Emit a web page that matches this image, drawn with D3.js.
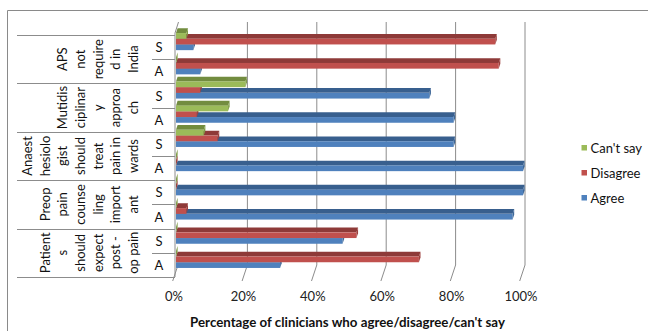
<!DOCTYPE html>
<html>
<head>
<meta charset="utf-8">
<script src="https://cdn.jsdelivr.net/npm/d3@7"></script>
<style>
  html, body { margin: 0; padding: 0; background: #fff; }
  svg { display: block; }
  text { font-family: Lato, "Open Sans", sans-serif; }
</style>
</head>
<body>
<svg id="chart" width="648" height="331"></svg>
<script>
// Statements (each label split into the lines it is set in)
const statements = [
  ["APS", "not", "require", "d in", "India"],
  ["Mutidis", "ciplinar", "y", "approa", "ch"],
  ["Anaest", "hesiolo", "gist", "should", "treat", "pain in", "wards"],
  ["Preop", "pain", "counse", "ling", "import", "ant"],
  ["Patient", "s", "should", "expect", "post -", "op pain"]
];
const groups = ["S", "A"];

// Percentage of clinicians, one value per statement/group row (top to bottom)
const agree    = [5, 7, 73, 80, 80, 100, 100, 97, 48, 30];
const disagree = [92, 93, 7, 6, 12, 0, 0, 3, 52, 70];
const cantSay  = [3, 0, 20, 15, 8, 0, 0, 0, 0, 0];

const seriesNames = ["Can't say", "Disagree", "Agree"];
const xTicks = [0, 20, 40, 60, 80, 100];
const axisTitle = "Percentage of clinicians who agree/disagree/can't say";

const svg = d3.select("#chart");

// rows: one per statement × group
const rows = [];
statements.forEach((s, i) => groups.forEach((g, j) => rows.push({ stmt: i, grp: g, key: i + "-" + g })));

const x = d3.scaleLinear().domain([0, 100]).range([174, 521]);
const y = d3.scaleBand().domain(rows.map(r => r.key)).range([35, 277]).padding(0);
const yStmt = d3.scaleBand().domain(d3.range(statements.length)).range([35, 277]).padding(0);

// 3D projection offsets
const wall = { dx: 4, dy: -12 };     // depth of the back wall
const barOff = { dx: 2, dy: -5.5 };  // bars sit half way into the depth
const barDepth = { dx: 1.6, dy: -4.8 };
const barH = 5.7;

const gridColor = "#8c8c8c";
const colors = {
  "Agree":     { front: "#4f81bd", top: "#385f8e", end: "#3f6898" },
  "Disagree":  { front: "#c0504d", top: "#8e3a38", end: "#9e413e" },
  "Can't say": { front: "#9bbb59", top: "#728c3f", end: "#809d49" }
};

// Outer chart border (left and top edges)
svg.append("path")
  .attr("d", "M7.5,331 L7.5,10.5 L648,10.5")
  .attr("fill", "none").attr("stroke", "#8a8a8a").attr("stroke-width", 1);

// Back wall gridlines
const grid = svg.append("g");
const wallTop = 22, wallBottom = 277 + wall.dy;
xTicks.filter(t => t > 0).forEach(t => {
  grid.append("line")
    .attr("x1", x(t) + wall.dx).attr("x2", x(t) + wall.dx)
    .attr("y1", wallTop).attr("y2", wallBottom)
    .attr("stroke", gridColor).attr("stroke-width", 1);
});
// Floor: depth lines continuing into ticks
xTicks.forEach(t => {
  grid.append("line")
    .attr("x1", x(t) + wall.dx).attr("y1", wallBottom)
    .attr("x2", x(t) - 1.3).attr("y2", 281)
    .attr("stroke", gridColor).attr("stroke-width", 1);
});
// Left wall edge with its slanted top
grid.append("path")
  .attr("d", `M${x(0) + 1},277 L${x(0) + 1},33 L${x(0) + 1 + 3.5},22`)
  .attr("fill", "none").attr("stroke", gridColor).attr("stroke-width", 1);

// Bars (drawn bottom series first so upper bars overlap lower top faces)
const series = [
  { name: "Agree", values: agree, slot: 2 },
  { name: "Disagree", values: disagree, slot: 1 },
  { name: "Can't say", values: cantSay, slot: 0 }
];
const bars = svg.append("g");
rows.forEach((r, i) => {
  const cy = y(r.key) + y.bandwidth() / 2 + barOff.dy;
  series.forEach(s => {
    const v = s.values[i];
    const x0 = x(0) + barOff.dx, x1 = x(v) + barOff.dx;
    const y0 = cy - 1.5 * barH + s.slot * barH, y1 = y0 + barH;
    const c = colors[s.name];
    const g = bars.append("g");
    // top face
    g.append("path")
      .attr("d", `M${x0},${y0} L${x0 + barDepth.dx},${y0 + barDepth.dy} L${x1 + barDepth.dx},${y0 + barDepth.dy} L${x1},${y0} Z`)
      .attr("fill", c.top);
    // front face
    g.append("rect")
      .attr("x", x0).attr("y", y0).attr("width", Math.max(0, x1 - x0)).attr("height", barH)
      .attr("fill", c.front);
    // end face
    g.append("path")
      .attr("d", `M${x1},${y0} L${x1 + barDepth.dx},${y0 + barDepth.dy} L${x1 + barDepth.dx},${y1 + barDepth.dy} L${x1},${y1} Z`)
      .attr("fill", c.end);
  });
});

// Category table on the left
const table = svg.append("g");
const lineColor = "#8c8c8c";
d3.range(statements.length + 1).forEach(i => {
  const yy = Math.round(35 + i * yStmt.bandwidth()) + 0.5;
  table.append("line").attr("x1", 17).attr("x2", x(0) + 1).attr("y1", yy).attr("y2", yy)
    .attr("stroke", lineColor).attr("stroke-width", 1);
});
statements.forEach((s, i) => {
  const yy = Math.round(yStmt(i) + yStmt.bandwidth() / 2) + 0.5;
  table.append("line").attr("x1", 152).attr("x2", x(0) + 1).attr("y1", yy).attr("y2", yy)
    .attr("stroke", lineColor).attr("stroke-width", 1);
});
rows.forEach(r => {
  table.append("text")
    .attr("x", 159).attr("y", y(r.key) + y.bandwidth() / 2)
    .attr("text-anchor", "middle").attr("dominant-baseline", "central")
    .attr("font-size", 13).attr("fill", "#111").text(r.grp);
});
statements.forEach((lines, i) => {
  const cy = yStmt(i) + yStmt.bandwidth() / 2;
  const n = lines.length;
  lines.forEach((ln, k) => {
    const cx = 133 - (n - 1 - k) * 17.7;
    table.append("text")
      .attr("transform", `translate(${cx},${cy}) rotate(-90)`)
      .attr("text-anchor", "middle").attr("dominant-baseline", "central")
      .attr("font-size", 13).attr("fill", "#111").text(ln);
  });
});

// Value axis labels
const axis = svg.append("g");
xTicks.forEach(t => {
  axis.append("text")
    .attr("x", x(t)).attr("y", 296)
    .attr("text-anchor", "middle").attr("dominant-baseline", "central")
    .attr("font-size", 13).attr("fill", "#222").text(d3.format(".0%")(t / 100));
});
axis.append("text")
  .attr("x", 347.5).attr("y", 321.5)
  .attr("text-anchor", "middle").attr("dominant-baseline", "central")
  .attr("font-size", 13.3).attr("font-weight", "bold").attr("fill", "#111").text(axisTitle);

// Legend
const legend = svg.append("g");
seriesNames.forEach((name, i) => {
  const ly = 147.5 + i * 25;
  legend.append("rect").attr("x", 581.5).attr("y", ly - 2.5).attr("width", 5.5).attr("height", 5.5)
    .attr("fill", colors[name].front);
  legend.append("text").attr("x", 590.5).attr("y", ly)
    .attr("dominant-baseline", "central").attr("font-size", 13).attr("fill", "#111").text(name);
});
</script>
</body>
</html>
